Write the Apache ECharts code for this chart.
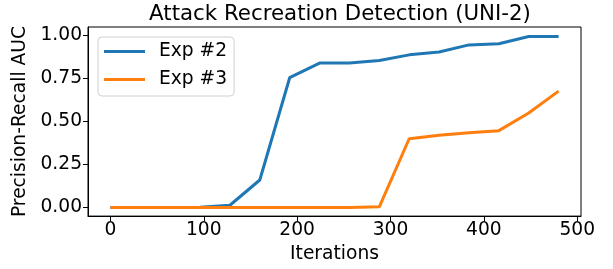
<!DOCTYPE html>
<html>
<head>
<meta charset="utf-8">
<script src="https://cdn.jsdelivr.net/npm/echarts@6/dist/echarts.min.js"></script>
<style>
  html, body { margin: 0; padding: 0; background: #fff; }
  #chart { width: 613px; height: 269px; }
</style>
</head>
<body>
<div id="chart"></div>
<script>
// iterations (x) and PR-AUC values
const iterations = [0, 32, 64, 96, 128, 160, 192, 224, 256, 288, 320, 352, 384, 416, 448, 480];
const exp2 = [0.0, 0.0, 0.0, 0.002, 0.013, 0.16, 0.755, 0.84, 0.84, 0.855, 0.888, 0.905, 0.946, 0.953, 0.995, 0.995];
const exp3 = [0.0, 0.0, 0.0, 0.0, 0.0, 0.0, 0.0, 0.0, 0.0, 0.004, 0.40, 0.42, 0.435, 0.447, 0.55, 0.677];
const xTicks = [0, 100, 200, 300, 400, 500];
const yTicks = [0, 0.25, 0.5, 0.75, 1.0];

const font = 'DejaVu Sans';
const fs = 18.67; // 14pt

function pairs(xs, ys) {
  return xs.map((x, i) => [x, ys[i]]);
}

let chart = echarts.init(document.getElementById('chart'), null, { renderer: 'canvas' });

let option = {
  animation: false,
  backgroundColor: '#fff',
  title: {
    text: 'Attack Recreation Detection (UNI-2)',
    left: 335,
    textAlign: 'center',
    top: -1,
    textStyle: { fontFamily: font, fontSize: 21.33, fontWeight: 'normal', color: '#000' }
  },
  grid: {
    left: 88, right: 32, top: 27, bottom: 50,
    show: true, borderColor: '#000', borderWidth: 1, backgroundColor: 'transparent'
  },
  legend: {
    left: 98, top: 37,
    orient: 'vertical',
    icon: 'rect',
    itemWidth: 41, itemHeight: 3,
    itemGap: 7,
    padding: [4, 7, 6, 6],
    backgroundColor: '#fff',
    borderColor: '#d0d0d0',
    borderWidth: 1,
    borderRadius: 4,
    textStyle: { fontFamily: font, fontSize: fs, color: '#000', lineHeight: 21, padding: [0, 0, 0, 9] }
  },
  xAxis: {
    type: 'value',
    min: -24, max: 504,
    name: 'Iterations',
    nameLocation: 'middle',
    nameGap: 27,
    nameTextStyle: { fontFamily: font, fontSize: fs, color: '#000' },
    splitLine: { show: false },
    axisLine: { show: true, onZero: false, lineStyle: { color: '#000', width: 1 } },
    axisTick: { show: true, length: 5, lineStyle: { color: '#000' }, customValues: xTicks },
    axisLabel: { fontFamily: font, fontSize: fs, color: '#000', margin: 5, customValues: xTicks }
  },
  yAxis: {
    type: 'value',
    min: -0.05, max: 1.05,
    name: 'Precision-Recall AUC',
    nameLocation: 'middle',
    nameGap: 52,
    nameTextStyle: { fontFamily: font, fontSize: fs, color: '#000' },
    splitLine: { show: false },
    axisLine: { show: true, onZero: false, lineStyle: { color: '#000', width: 1 } },
    axisTick: { show: true, length: 5, lineStyle: { color: '#000' }, customValues: yTicks },
    axisLabel: {
      fontFamily: font, fontSize: fs, color: '#000', margin: 6,
      customValues: yTicks,
      formatter: v => v.toFixed(2)
    }
  },
  series: [
    {
      name: 'Exp #2',
      type: 'line',
      data: pairs(iterations, exp2),
      showSymbol: false,
      color: '#1f77b4',
      lineStyle: { width: 3, color: '#1f77b4' }
    },
    {
      name: 'Exp #3',
      type: 'line',
      data: pairs(iterations, exp3),
      showSymbol: false,
      color: '#ff7f0e',
      lineStyle: { width: 3, color: '#ff7f0e' }
    }
  ]
};

chart.setOption(option);
</script>
</body>
</html>
